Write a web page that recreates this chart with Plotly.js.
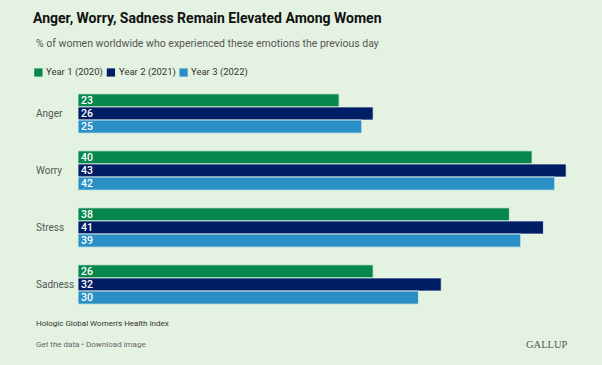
<!DOCTYPE html>
<html>
<head>
<meta charset="utf-8">
<script src="https://cdn.plot.ly/plotly-3.0.1.min.js"></script>
<style>
html,body{margin:0;padding:0;background:#e4f2e1;}
#chart{width:602px;height:365px;}
</style>
</head>
<body>
<div id="chart"></div>
<script>
const categories = ["Anger", "Worry", "Stress", "Sadness"];
const seriesNames = ["Year 1 (2020)", "Year 2 (2021)", "Year 3 (2022)"];
const year2020 = [23, 40, 38, 26];
const year2021 = [26, 43, 41, 32];
const year2022 = [25, 42, 39, 30];
const seriesValues = [year2020, year2021, year2022];
const colors = ["#07874b", "#001e65", "#2a8fc5"];

const W = 602, H = 365;
const ml = 77.5, mr = 12, mt = 85.2, mb = 52;
const plotW = W - ml - mr, plotH = H - mt - mb;
const px = x => (x - ml) / plotW;          // container px -> paper x
const py = y => (H - mb - y) / plotH;      // container px -> paper y
const FONT = "Roboto, Arial, sans-serif";

const traces = seriesValues.map((vals, i) => ({
  type: "bar",
  orientation: "h",
  name: seriesNames[i],
  y: categories,
  x: vals,
  text: vals.map(String),
  textposition: "inside",
  insidetextanchor: "start",
  textangle: 0,
  textfont: {color: "#ffffff", size: 10.5, family: FONT, weight: 500},
  marker: {color: colors[i], line: {color: "#eef7ee", width: 0.8}},
  hoverinfo: "none",
  showlegend: false
}));

const annotations = categories.map(c => ({
  xref: "paper", yref: "y", x: px(33), y: c,
  xanchor: "left", yanchor: "middle", showarrow: false,
  text: c, font: {size: 10, color: "#555555", family: FONT}
}));

annotations.push(
  {xref: "paper", yref: "paper", x: px(33), y: py(44),
   xanchor: "left", yanchor: "middle", showarrow: false,
   text: "% of women worldwide who experienced these emotions the previous day",
   font: {size: 10.5, color: "#555555", family: FONT}},
  {xref: "paper", yref: "paper", x: px(33), y: py(323),
   xanchor: "left", yanchor: "middle", showarrow: false,
   text: "Hologic Global Women's Health Index",
   font: {size: 8, color: "#333333", family: FONT}},
  {xref: "paper", yref: "paper", x: px(33), y: py(344),
   xanchor: "left", yanchor: "middle", showarrow: false,
   text: "Get the data • Download image",
   font: {size: 8, color: "#666666", family: FONT}},
  {xref: "paper", yref: "paper", x: px(570), y: py(344),
   xanchor: "right", yanchor: "middle", showarrow: false,
   text: "GALLUP",
   font: {size: 10.5, color: "#555555", family: "Liberation Serif, DejaVu Serif, serif"}}
);

// compact legend: colour squares + labels
const shapes = [];
const legendX = [33.7, 106.3, 179];
const legendY = 72.7;
seriesNames.forEach((n, i) => {
  shapes.push({type: "rect", xref: "paper", yref: "paper",
    x0: px(legendX[i]), x1: px(legendX[i] + 8.3),
    y0: py(legendY + 4.1), y1: py(legendY - 4.1),
    fillcolor: colors[i], line: {width: 0}});
  annotations.push({xref: "paper", yref: "paper", x: px(legendX[i] + 10), y: py(legendY),
    xanchor: "left", yanchor: "middle", showarrow: false,
    text: n, font: {size: 9.5, color: "#333333", family: FONT}});
});

const layout = {
  width: W, height: H,
  paper_bgcolor: "#e4f2e1",
  plot_bgcolor: "#e4f2e1",
  margin: {l: ml, r: mr, t: mt, b: mb, pad: 0},
  title: {
    text: "<b>Anger, Worry, Sadness Remain Elevated Among Women</b>",
    xref: "container", yref: "container",
    x: 33 / W, xanchor: "left",
    y: 1 - 18 / H, yanchor: "middle",
    font: {size: 14, color: "#111111", family: FONT}
  },
  barmode: "group",
  bargap: 0.31,
  bargroupgap: 0,
  xaxis: {range: [0, 45.1], visible: false, showgrid: false, zeroline: false, fixedrange: true},
  yaxis: {autorange: "reversed", showticklabels: false, showgrid: false, zeroline: false,
          ticks: "", showline: false, fixedrange: true},
  showlegend: false,
  uniformtext: {mode: "show", minsize: 10.5},
  shapes: shapes,
  annotations: annotations
};

Plotly.newPlot("chart", traces, layout, {displayModeBar: false, staticPlot: true});
</script>
</body>
</html>
